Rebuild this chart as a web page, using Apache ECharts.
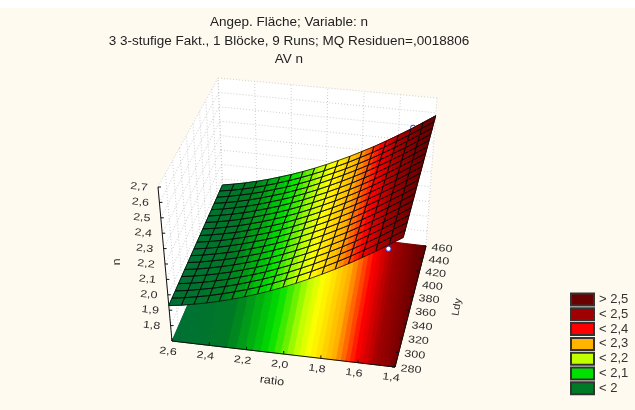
<!DOCTYPE html>
<html><head><meta charset="utf-8">
<style>html,body{margin:0;padding:0;background:#FFFAF0}#c{width:635px;height:410px}</style>
<script src="https://cdn.jsdelivr.net/npm/echarts@6/dist/echarts.min.js"></script>
</head><body><div id="c"></div>
<script>
const titleLines = ['Angep. Fläche; Variable: n','3 3-stufige Fakt., 1 Blöcke, 9 Runs; MQ Residuen=,0018806','AV n'];
const ratioTicks = [2.6,2.4,2.2,2.0,1.8,1.6,1.4];
const ldyTicks = [280,300,320,340,360,380,400,420,440,460];
const nTicks = [1.8,1.9,2.0,2.1,2.2,2.3,2.4,2.5,2.6,2.7];
const ratioNodes = [2.6,2.533,2.467,2.4,2.333,2.267,2.2,2.133,2.067,2.0,1.933,1.867,1.8,1.733,1.667,1.6,1.533,1.467,1.4];
const ldyNodes = [280,290,300,310,320,330,340,350,360,370,380,390,400,410,420,430,440,450,460];
// fitted n per Ldy row (columns follow ratioNodes)
const nTable = [
[1.930,1.942,1.957,1.974,1.994,2.016,2.040,2.067,2.096,2.128,2.162,2.198,2.237,2.278,2.321,2.368,2.416,2.467,2.520],
[1.932,1.944,1.959,1.976,1.996,2.018,2.042,2.069,2.099,2.131,2.165,2.201,2.240,2.281,2.324,2.371,2.419,2.470,2.523],
[1.933,1.945,1.961,1.978,1.998,2.020,2.045,2.072,2.101,2.133,2.168,2.204,2.243,2.284,2.327,2.374,2.422,2.474,2.527],
[1.935,1.947,1.962,1.980,2.000,2.023,2.047,2.074,2.104,2.136,2.170,2.207,2.246,2.287,2.330,2.378,2.426,2.477,2.530],
[1.936,1.949,1.964,1.982,2.002,2.025,2.049,2.077,2.106,2.139,2.173,2.209,2.249,2.290,2.333,2.381,2.429,2.480,2.533],
[1.938,1.950,1.966,1.984,2.004,2.027,2.052,2.079,2.109,2.141,2.176,2.212,2.252,2.293,2.337,2.384,2.432,2.483,2.537],
[1.939,1.952,1.968,1.986,2.006,2.029,2.054,2.082,2.111,2.144,2.179,2.215,2.255,2.296,2.340,2.387,2.435,2.487,2.540],
[1.941,1.954,1.970,1.988,2.008,2.032,2.056,2.084,2.114,2.147,2.182,2.218,2.258,2.299,2.343,2.390,2.439,2.490,2.543],
[1.942,1.955,1.971,1.990,2.011,2.034,2.059,2.087,2.117,2.149,2.184,2.221,2.261,2.302,2.346,2.393,2.442,2.493,2.547],
[1.944,1.957,1.973,1.992,2.013,2.036,2.061,2.089,2.119,2.152,2.187,2.224,2.264,2.305,2.349,2.397,2.445,2.497,2.550],
[1.945,1.959,1.975,1.993,2.015,2.038,2.063,2.091,2.122,2.155,2.190,2.226,2.266,2.308,2.352,2.400,2.448,2.500,2.553],
[1.947,1.960,1.977,1.995,2.017,2.040,2.066,2.094,2.124,2.157,2.193,2.229,2.269,2.311,2.355,2.403,2.451,2.503,2.557],
[1.948,1.962,1.978,1.997,2.019,2.043,2.068,2.096,2.127,2.160,2.195,2.232,2.272,2.314,2.358,2.406,2.455,2.506,2.560],
[1.950,1.964,1.980,1.999,2.021,2.045,2.070,2.099,2.129,2.163,2.198,2.235,2.275,2.317,2.361,2.409,2.458,2.510,2.563],
[1.951,1.965,1.982,2.001,2.023,2.047,2.073,2.101,2.132,2.165,2.201,2.238,2.278,2.320,2.365,2.412,2.461,2.513,2.567],
[1.953,1.967,1.984,2.003,2.025,2.049,2.075,2.104,2.134,2.168,2.204,2.241,2.281,2.323,2.368,2.416,2.464,2.516,2.570],
[1.954,1.969,1.986,2.005,2.027,2.052,2.077,2.106,2.137,2.171,2.207,2.243,2.284,2.326,2.371,2.419,2.468,2.520,2.573],
[1.956,1.970,1.987,2.007,2.029,2.054,2.080,2.109,2.140,2.173,2.209,2.246,2.287,2.329,2.374,2.422,2.471,2.523,2.577],
[1.957,1.972,1.989,2.009,2.031,2.056,2.082,2.111,2.142,2.176,2.212,2.249,2.290,2.332,2.377,2.425,2.474,2.526,2.580]
];
const observedRatio = [1.52,1.47];
const observedLdy = [460,280];
const observedN = [2.485,2.44];
const legendNames = ['> 2,5','< 2,5','< 2,4','< 2,3','< 2,2','< 2,1','< 2'];
const legendColors = ['#6b0000','#a00000','#ff0000','#ffb400','#bfff00','#00e000','#007a25'];

const rampStops = [[1.90,[0,107,60]],[2.00,[0,122,37]],[2.09,[0,224,0]],[2.16,[191,255,0]],[2.20,[255,255,0]],[2.28,[255,176,0]],[2.36,[255,0,0]],[2.44,[160,0,0]],[2.55,[107,0,0]]];
const bandStep = 0.0167;
function bandColor(m){
  const q = (m+0.5)*bandStep;
  let i = 0;
  while(i<rampStops.length-2 && q>rampStops[i+1][0]) i++;
  const a=rampStops[i],b=rampStops[i+1];
  const f=Math.max(0,Math.min(1,(q-a[0])/(b[0]-a[0])));
  return 'rgb('+[0,1,2].map(k=>Math.round(a[1][k]+(b[1][k]-a[1][k])*f)).join(',')+')';
}

function homography(p){
  const [p0,p1,p2,p3]=p;
  const dx1=p1[0]-p2[0],dx2=p3[0]-p2[0],sx=p0[0]-p1[0]+p2[0]-p3[0];
  const dy1=p1[1]-p2[1],dy2=p3[1]-p2[1],sy=p0[1]-p1[1]+p2[1]-p3[1];
  const den=dx1*dy2-dx2*dy1;
  const g=(sx*dy2-dx2*sy)/den,h=(dx1*sy-sx*dy1)/den;
  const a=p1[0]-p0[0]+g*p1[0],b=p3[0]-p0[0]+h*p3[0];
  const d=p1[1]-p0[1]+g*p1[1],e=p3[1]-p0[1]+h*p3[1];
  return (u,v)=>{const w=g*u+h*v+1;return [(a*u+b*v+p0[0])/w,(d*u+e*v+p0[1])/w];};
}
const floorMap = homography([[172,341],[395,367],[426,246],[224,222]]);
const topMap = homography([[158,187],[405,209],[437,98],[218,78]]);
const uOf = r => (2.6-r)/1.2, vOf = l => (l-280)/180, wOf = n => (n-1.7)/1.0;
function proj(u,v,w){
  const a=floorMap(u,v),b=topMap(u,v);
  return [a[0]+(b[0]-a[0])*w,a[1]+(b[1]-a[1])*w];
}
const P3 = (r,l,n) => proj(uOf(r),vOf(l),wOf(n));

const cells=[];
for(let j=0;j<ldyNodes.length-1;j++)for(let i=0;i<ratioNodes.length-1;i++)cells.push([i,j]);

function clipBand(poly,lim,keepAbove){
  const out=[];
  for(let k=0;k<poly.length;k++){
    const a=poly[k],b=poly[(k+1)%poly.length];
    const ia=keepAbove?a[2]>=lim:a[2]<=lim, ib=keepAbove?b[2]>=lim:b[2]<=lim;
    if(ia) out.push(a);
    if(ia!==ib){
      const f=(lim-a[2])/(b[2]-a[2]);
      out.push([a[0]+(b[0]-a[0])*f,a[1]+(b[1]-a[1])*f,lim]);
    }
  }
  return out;
}
const vtx=(a,b)=>[uOf(ratioNodes[a]),vOf(ldyNodes[b]),nTable[b][a]];
// under-layer: a whole cell in its mean colour, so no seam ever shows the wall behind
function baseRender(onFloor){
  return function(params,api){
    const i=api.value(0),j=api.value(1);
    const q=[vtx(i,j),vtx(i+1,j),vtx(i+1,j+1),vtx(i,j+1)];
    const mean=(q[0][2]+q[1][2]+q[2][2]+q[3][2])/4;
    const c=bandColor(Math.floor(mean/bandStep));
    const pts=q.map(p=>api.coord(proj(p[0],p[1],onFloor?0:wOf(p[2]))));
    return {type:'polygon',shape:{points:pts},style:{fill:c,stroke:c,lineWidth:0.8,lineJoin:'bevel'}};
  };
}
function cellRender(onFloor){
  return function(params,api){
    const i=api.value(0),j=api.value(1),children=[];
    const A=vtx(i,j),B=vtx(i+1,j),C=vtx(i+1,j+1),D=vtx(i,j+1);
    [[A,B,C],[A,C,D]].forEach(tri=>{
      const zs=tri.map(p=>p[2]);
      const m0=Math.floor(Math.min(...zs)/bandStep),m1=Math.floor(Math.max(...zs)/bandStep);
      for(let m=m0;m<=m1;m++){
        let poly=clipBand(tri,m*bandStep,true);
        if(poly.length) poly=clipBand(poly,(m+1)*bandStep,false);
        if(poly.length<3) continue;
        const c=bandColor(m);
        const pts=poly.map(p=>api.coord(proj(p[0],p[1],onFloor?0:wOf(p[2]))));
        children.push({type:'polygon',shape:{points:pts},style:{fill:c,stroke:c,lineWidth:0.4,lineJoin:'bevel'}});
      }
    });
    return {type:'group',children};
  };
}
function meshRender(params,api){
  const i=api.value(0),j=api.value(1);
  const pts=[[i,j],[i+1,j],[i+1,j+1],[i,j+1]].map(q=>api.coord(P3(ratioNodes[q[0]],ldyNodes[q[1]],nTable[q[1]][q[0]])));
  return {type:'polygon',shape:{points:pts},style:{fill:'none',stroke:'#0a0a0a',lineWidth:0.75,lineJoin:'bevel'}};
}
const G='#cfcfcf';
function seg(api,a,b,stroke,width,dash){
  const p=api.coord(a),q=api.coord(b);
  return {type:'line',shape:{x1:p[0],y1:p[1],x2:q[0],y2:q[1]},style:{stroke,lineWidth:width,lineDash:dash||null}};
}
function boxRender(params,api){
  const ch=[];
  const L=[proj(0,0,0),proj(0,1,0),proj(0,1,1),proj(0,0,1)].map(p=>api.coord(p));
  const B=[proj(0,1,0),proj(1,1,0),proj(1,1,1),proj(0,1,1)].map(p=>api.coord(p));
  ch.push({type:'polygon',shape:{points:L},style:{fill:'#fff'}});
  ch.push({type:'polygon',shape:{points:B},style:{fill:'#fff'}});
  const d=[1,2];
  nTicks.concat([1.7]).forEach(n=>{
    const w=wOf(n);
    ch.push(seg(api,proj(0,0,w),proj(0,1,w),G,1,d));
    ch.push(seg(api,proj(0,1,w),proj(1,1,w),G,1,d));
  });
  ldyTicks.forEach(l=>ch.push(seg(api,proj(0,vOf(l),0),proj(0,vOf(l),1),G,1,d)));
  ratioTicks.forEach(r=>ch.push(seg(api,proj(uOf(r),1,0),proj(uOf(r),1,1),G,1,d)));
  return {type:'group',children:ch};
}
function axesRender(params,api){
  const ch=[];
  const K='#111';
  ch.push(seg(api,proj(0,0,0),proj(0,0,1),K,1));
  ch.push(seg(api,proj(0,0,0),proj(1,0,0),K,1));
  ch.push(seg(api,proj(1,0,0),proj(1,1,0),K,1));
  const add=(p,dx,dy)=>{const a=api.coord(p),b=api.coord([p[0]+dx,p[1]+dy]);
    ch.push({type:'line',shape:{x1:a[0],y1:a[1],x2:b[0],y2:b[1]},style:{stroke:K,lineWidth:1}});};
  nTicks.forEach(n=>add(proj(0,0,wOf(n)),3,0));
  ratioTicks.forEach(r=>add(proj(uOf(r),0,0),0,-3));
  ldyTicks.forEach(l=>add(proj(1,vOf(l),0),-3,0));
  const txt=(p,dx,dy,s,rot,size,sx)=>{const a=api.coord([p[0]+dx,p[1]+dy]);
    ch.push({type:'text',x:a[0],y:a[1],rotation:rot,scaleX:sx,
      style:{text:s,fill:'#2a2a2a',font:size+'px "Liberation Sans"',align:'center',verticalAlign:'middle'}});};
  const fmt=(v)=>v.toFixed(1).replace('.',',');
  nTicks.forEach(n=>txt(proj(0,0,wOf(n)),-19,0,fmt(n),-0.1,10,1.25));
  ratioTicks.forEach(r=>txt(proj(uOf(r),0,0),-4,10.5,fmt(r),-0.12,10,1.25));
  ldyTicks.forEach(l=>txt(proj(1,vOf(l),0),16,2.5,String(l),-0.1,10,1.25));
  txt([272,381],0,0,'ratio',-0.12,11,1.15);
  txt([457,307],0,0,'Ldy',1.4,10,1.1);
  txt([117,262],0,0,'n',1.57,11,1.1);
  return {type:'group',children:ch};
}
function obsRender(params,api){
  const p=api.coord(P3(observedRatio[params.dataIndex],observedLdy[params.dataIndex],observedN[params.dataIndex]));
  return {type:'circle',shape:{cx:p[0],cy:p[1],r:2.6},style:{fill:'#fff',stroke:'#3333cc',lineWidth:1}};
}
const base={type:'custom',coordinateSystem:'cartesian2d',clip:false,silent:true,animation:false,progressive:0,xAxisIndex:0,yAxisIndex:0};
const series=[
  Object.assign({},base,{name:'box',z:1,data:[[0,0]],renderItem:boxRender}),
  Object.assign({},base,{name:'floorBase',z:2,data:cells,renderItem:baseRender(true)}),
  Object.assign({},base,{name:'floor',z:3,data:cells,renderItem:cellRender(true)}),
  Object.assign({},base,{name:'axes',z:4,data:[[0,0]],renderItem:axesRender}),
  Object.assign({},base,{name:'observed',z:5,data:observedRatio.map((r,i)=>[r,observedN[i]]),renderItem:obsRender}),
  Object.assign({},base,{name:'surfaceBase',z:6,data:cells,renderItem:baseRender(false)}),
  Object.assign({},base,{name:'surface',z:7,data:cells,renderItem:cellRender(false)}),
  Object.assign({},base,{name:'mesh',z:8,data:cells,renderItem:meshRender})
];
legendNames.forEach((n,i)=>series.push({type:'scatter',name:n,data:[],itemStyle:{color:legendColors[i],opacity:1,borderColor:'#333',borderWidth:1}}));

const chart=echarts.init(document.getElementById('c'),null,{renderer:'canvas'});
chart.setOption({
  animation:false,
  backgroundColor:'#FFFAF0',
  title:{text:titleLines.join('\n'),left:284,top:8,textAlign:'center',
    textStyle:{fontFamily:'Liberation Sans',fontSize:13.5,fontWeight:'normal',color:'#222',lineHeight:18.7}},
  grid:{left:0,right:0,top:0,bottom:0},
  xAxis:{type:'value',min:0,max:635,show:false},
  yAxis:{type:'value',min:0,max:410,inverse:true,show:false},
  legend:{orient:'vertical',left:570,top:292.5,padding:0,itemWidth:23,itemHeight:12,itemGap:0.8,selectedMode:false,
    icon:'rect',
    data:legendNames.map(n=>({name:n})),
    textStyle:{fontFamily:'Liberation Sans',fontSize:13,color:'#333'}},
  graphic:[{type:'rect',shape:{x:0,y:0,width:635,height:8},style:{fill:'#fff'},silent:true}],
  series
});
</script></body></html>
